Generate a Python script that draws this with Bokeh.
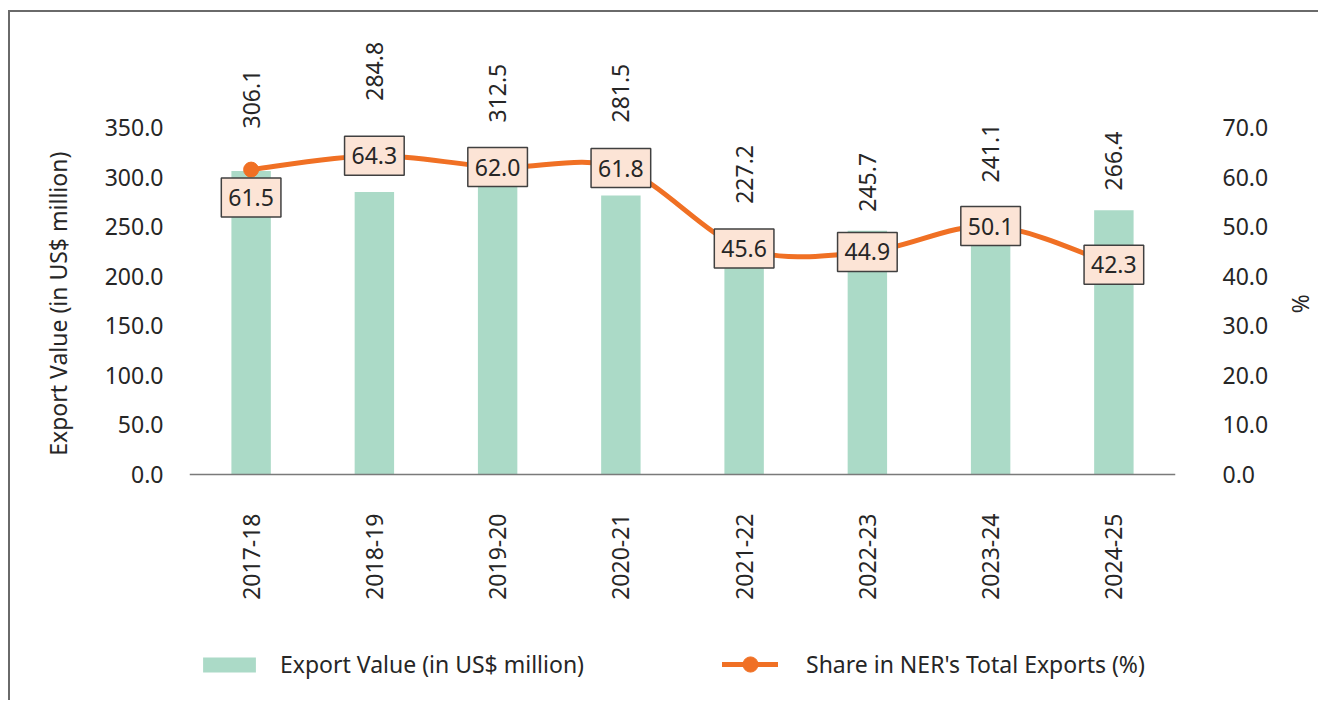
import numpy as np
from bokeh.plotting import figure
from bokeh.models import (Range1d, LinearAxis, FixedTicker, NumeralTickFormatter,
                          Legend, LegendItem, Span)
from bokeh.core.properties import value
from bokeh.embed import file_html
from bokeh.resources import INLINE

# ---- data ----
years = ["2017-18", "2018-19", "2019-20", "2020-21", "2021-22", "2022-23", "2023-24", "2024-25"]
export_value = [306.1, 284.8, 312.5, 281.5, 227.2, 245.7, 241.1, 266.4]
share_pct = [61.5, 64.3, 62.0, 61.8, 45.6, 44.9, 50.1, 42.3]
left_ticks = [0, 50, 100, 150, 200, 250, 300, 350]
right_ticks = [0, 10, 20, 30, 40, 50, 60, 70]
# label anchor heights for the rotated value labels (export-axis units, as placed in the original)
value_label_pos = [349, 377, 355, 355, 273, 265, 294.5, 286.5]
# vertical pixel shift of each share label box (first one sits below its point)
share_label_shift = [28, 0, 0, 0, 0, 0, 0, 0]

FONT = "Noto Sans"
TXT = "#262626"
BAR = "#ABDAC7"
ORANGE = "#F07024"
BOXFILL = "#FCE4D6"
NB = "\u00a0"

xs = list(range(len(years)))
LEFT_MIN, LEFT_MAX = -230.0, 435.7
RIGHT_MIN, RIGHT_MAX = LEFT_MIN / 5.0, LEFT_MAX / 5.0

p = figure(width=1310, height=690, output_backend="svg", toolbar_location=None,
           x_range=Range1d(-0.5, len(years) - 0.5), y_range=Range1d(LEFT_MIN, LEFT_MAX),
           min_border_left=179, min_border_right=145, min_border_top=30, min_border_bottom=0,
           background_fill_color="white", border_fill_color="white", outline_line_color=None)
p.margin = (10, 0, 0, 8)
p.extra_y_ranges = {"share": Range1d(RIGHT_MIN, RIGHT_MAX)}
p.styles = {"border-top": "2px solid #6a6a6a", "border-left": "2px solid #6a6a6a"}
p.xgrid.visible = False
p.ygrid.visible = False
p.xaxis.visible = False

# category axis line and labels
p.add_layout(Span(location=0, dimension="width", line_color="#7a7a7a", line_width=1.5))
p.text(x=xs, y=[0] * len(xs), text=years, angle=np.pi / 2, y_offset=39,
       text_align="right", text_baseline="middle", text_font=value(FONT),
       text_font_size="23px", text_color=TXT)

# bars
bars = p.vbar(x=xs, top=export_value, width=0.32, fill_color=BAR, line_color=None)

# bar value labels (rotated)
p.text(x=xs, y=value_label_pos, text=[f"{v:.1f}" for v in export_value], angle=np.pi / 2,
       text_align="left", text_baseline="middle", text_font=value(FONT),
       text_font_size="23px", text_color=TXT)

# smoothed line (Catmull-Rom -> cubic Bezier) through the share values
n = len(share_pct)
x0, y0, x1, y1, cx0, cy0, cx1, cy1 = [], [], [], [], [], [], [], []
for i in range(n - 1):
    xa, ya = xs[i], share_pct[i]
    xb, yb = xs[i + 1], share_pct[i + 1]
    xp, yp = (xs[i - 1], share_pct[i - 1]) if i > 0 else (xa, ya)
    xn, yn = (xs[i + 2], share_pct[i + 2]) if i + 2 < n else (xb, yb)
    x0.append(xa); y0.append(ya); x1.append(xb); y1.append(yb)
    cx0.append(xa + (xb - xp) / 6.0); cy0.append(ya + (yb - yp) / 6.0)
    cx1.append(xb - (xn - xa) / 6.0); cy1.append(yb - (yn - ya) / 6.0)
curve = p.bezier(x0=x0, y0=y0, x1=x1, y1=y1, cx0=cx0, cy0=cy0, cx1=cx1, cy1=cy1,
                 y_range_name="share", line_color=ORANGE, line_width=5, line_cap="round")
marks = p.scatter(x=xs, y=share_pct, y_range_name="share", size=15, marker="circle",
                  fill_color=ORANGE, line_color=ORANGE)

# share labels with boxes
p.text(x=xs, y=share_pct, text=[f"{v:.1f}" for v in share_pct], y_range_name="share",
       y_offset=share_label_shift, text_align="center", text_baseline="middle",
       text_font=value(FONT), text_font_size="23px", text_color=TXT,
       background_fill_color=BOXFILL, border_line_color="#404040", border_line_width=1.5,
       padding=(7, 11))

# axes
yl = p.yaxis[0]
yl.ticker = FixedTicker(ticks=left_ticks)
yl.formatter = NumeralTickFormatter(format="0.0")
yl.axis_line_color = None
yl.major_tick_line_color = None
yl.minor_tick_line_color = None
yl.major_label_standoff = 20
yl.major_label_text_font = FONT
yl.major_label_text_font_size = "23px"
yl.major_label_text_color = TXT
yl.axis_label = NB * 23 + "Export Value (in US$ million)"
yl.axis_label_text_font = FONT
yl.axis_label_text_font_size = "23px"
yl.axis_label_text_font_style = "normal"
yl.axis_label_text_color = TXT
yl.axis_label_standoff = 28

yr = LinearAxis(y_range_name="share", ticker=FixedTicker(ticks=right_ticks),
                formatter=NumeralTickFormatter(format="0.0"))
yr.axis_line_color = None
yr.major_tick_line_color = None
yr.minor_tick_line_color = None
yr.major_label_standoff = 41
yr.major_label_text_font = FONT
yr.major_label_text_font_size = "23px"
yr.major_label_text_color = TXT
yr.axis_label = "%" + NB * 23
yr.axis_label_text_font = FONT
yr.axis_label_text_font_size = "23px"
yr.axis_label_text_font_style = "normal"
yr.axis_label_text_color = TXT
yr.axis_label_standoff = 14
p.add_layout(yr, "right")

# legends (inside the frame area, below the category labels)
common = dict(padding=0, margin=0, border_line_color=None, background_fill_alpha=0,
              label_text_font=FONT, label_text_font_size="23px", label_text_color=TXT,
              label_text_baseline="middle")
leg1 = Legend(items=[LegendItem(label="Export Value (in US$ million)", renderers=[bars])],
              location=(7, 22), glyph_width=66, glyph_height=19, label_standoff=18, **common)
leg2 = Legend(items=[LegendItem(label="Share in NER's Total Exports (%)", renderers=[curve, marks])],
              location=(533, 19), glyph_width=56, glyph_height=38, label_standoff=28, **common)
p.add_layout(leg1, "center")
p.add_layout(leg2, "center")

open("out.html", "w").write(file_html(p, INLINE))
